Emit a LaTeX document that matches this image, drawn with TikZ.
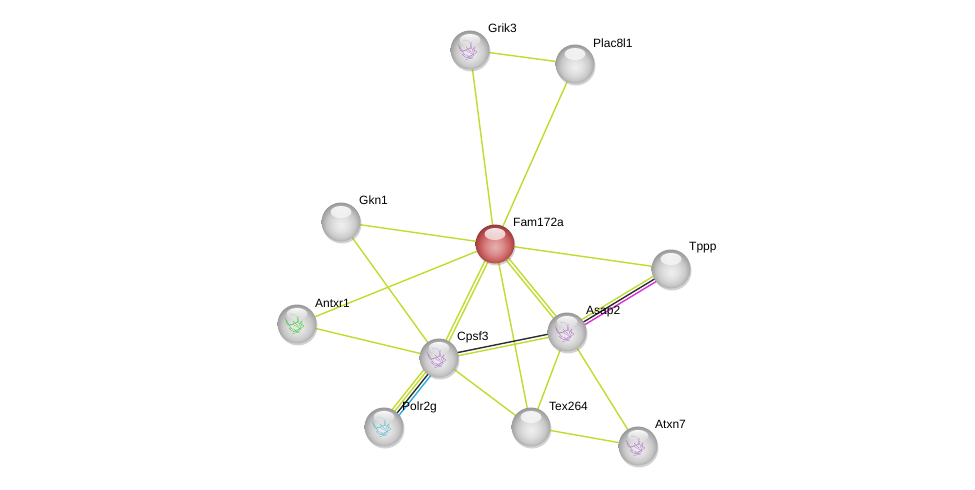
\documentclass[tikz,border=0pt]{standalone}
\usepackage{fontspec}
\setmainfont{Liberation Sans}
\usetikzlibrary{calc,backgrounds,shadows,fadings}
\definecolor{lime}{RGB}{192,220,44}
\definecolor{edgeblack}{RGB}{45,45,45}
\definecolor{edgecyan}{RGB}{40,175,225}
\definecolor{edgemag}{RGB}{220,45,220}
\definecolor{redball}{RGB}{200,80,80}
\definecolor{struct}{RGB}{175,120,200}
\definecolor{structg}{RGB}{70,200,70}
\definecolor{structc}{RGB}{90,190,210}
\tikzfading[name=hlfade, top color=transparent!0, bottom color=transparent!100]
\pgfdeclareradialshading{greysphere}{\pgfpoint{0bp}{-4bp}}{%
  color(0bp)=(gray!12); color(10bp)=(gray!25); color(18bp)=(gray!42);
  color(24bp)=(gray!68); color(29bp)=(gray!92); color(50bp)=(gray!92)}
\pgfdeclareradialshading{redsphere}{\pgfpoint{0bp}{-4bp}}{%
  color(0bp)=(redball!45!white); color(10bp)=(redball!65!white); color(18bp)=(redball!90!white);
  color(24bp)=(redball!85!black); color(29bp)=(redball!65!black); color(50bp)=(redball!65!black)}
\newcommand\pedge[4]{\draw[edge,#1] ($(#3.center)!#2!90:(#4.center)$) -- ($(#4.center)!#2!-90:(#3.center)$);}
\newcommand\scrib[1]{%
  \draw[#1, line width=0.45pt, opacity=0.85]
    ($(path picture bounding box.center)+(-7,-9)$) .. controls +(4,-3) and +(-3,2) .. +(3,-1)
    .. controls +(5,2) and +(-2,-4) .. +(9,6) .. controls +(-4,3) and +(3,-2) .. +(0,10)
    .. controls +(-4,1) and +(2,3) .. +(-5,3) .. controls +(3,4) and +(-2,-1) .. +(2,14)
    .. controls +(3,-2) and +(-3,3) .. +(10,17);
  \draw[#1, line width=0.45pt, opacity=0.85]
    ($(path picture bounding box.center)+(-4,-3)$) .. controls +(2,3) and +(-1,-2) .. +(5,5)
    .. controls +(2,2) and +(-3,1) .. +(9,0) .. controls +(1,4) and +(2,-1) .. +(3,11)
    .. controls +(-3,-1) and +(1,3) .. +(-4,7);
  \draw[#1, line width=0.45pt, opacity=0.85]
    ($(path picture bounding box.center)+(2,-8)$) .. controls +(-3,4) and +(2,-3) .. +(-2,6)
    .. controls +(4,2) and +(-2,-2) .. +(5,10) .. controls +(-3,3) and +(2,-2) .. +(-6,16);
  \draw[#1, line width=0.45pt, opacity=0.75]
    ($(path picture bounding box.center)+(-8,2)$) .. controls +(3,-3) and +(-2,2) .. +(4,-2)
    .. controls +(3,3) and +(-3,-2) .. +(12,3) .. controls +(-2,3) and +(3,-1) .. +(3,8);
}
\tikzset{
  edge/.style={line width=1.4pt, lime},
  shine/.style={path picture={#1\fill[white, path fading=hlfade, opacity=0.95]
      ($(path picture bounding box.center)+(0,-10)$) ellipse (10.5pt and 6pt);}},
  sph/.style={circle, minimum size=39pt, inner sep=0pt,
    drop shadow={opacity=0.35, shadow xshift=1pt, shadow yshift=-2pt},
    shading=greysphere, shine={}},
  redsph/.style={sph, shading=redsphere},
  lbl/.style={anchor=west, inner sep=0pt, font=\fontsize{12}{14}\selectfont},
}
\begin{document}
\begin{tikzpicture}[x=1pt,y=-1pt]
\useasboundingbox (0,0) rectangle (975,490);
% nodes
\node[sph, shine={\scrib{struct}}] (grik) at (470,50) {};
\node[sph] (plac) at (575,64) {};
\node[redsph] (fam) at (495,244) {};
\node[sph] (gkn) at (341,222) {};
\node[sph] (tppp) at (671,269) {};
\node[sph, shine={\scrib{structg}}] (antxr) at (297,324) {};
\node[sph, shine={\scrib{struct}}] (asap) at (567,332) {};
\node[sph, shine={\scrib{struct}}] (cpsf) at (439,358) {};
\node[sph, shine={\scrib{structc}}] (polr) at (384,427) {};
\node[sph] (tex) at (531,427) {};
\node[sph, shine={\scrib{struct}}] (atxn) at (638,446) {};
% labels
\node[lbl] (lgrik) at ($(grik.center)+(18,-22)$) {Grik3};
\node[lbl] (lplac) at ($(plac.center)+(18,-21)$) {Plac8l1};
\node[lbl] (lfam) at ($(fam.center)+(18,-22)$) {Fam172a};
\node[lbl] (lgkn) at ($(gkn.center)+(18,-22)$) {Gkn1};
\node[lbl] (ltppp) at ($(tppp.center)+(18,-21)$) {Tppp};
\node[lbl] (lantxr) at ($(antxr.center)+(18,-21)$) {Antxr1};
\node[lbl] (lasap) at ($(asap.center)+(19,-20)$) {Asap2};
\node[lbl] (lcpsf) at ($(cpsf.center)+(18,-21)$) {Cpsf3};
\node[lbl] (lpolr) at ($(polr.center)+(18,-20)$) {Polr2g};
\node[lbl] (ltex) at ($(tex.center)+(18,-21)$) {Tex264};
\node[lbl] (latxn) at ($(atxn.center)+(17,-22)$) {Atxn7};
% edges
\begin{scope}[on background layer]
\fill[white] (0,0) rectangle (975,490);
\pedge{}{0pt}{grik}{plac}
\pedge{}{0pt}{grik}{fam}
\pedge{}{0pt}{plac}{fam}
\pedge{}{0pt}{gkn}{fam}
\pedge{}{0pt}{gkn}{cpsf}
\pedge{}{0pt}{fam}{tppp}
\pedge{}{0pt}{fam}{antxr}
\pedge{}{1.6pt}{fam}{cpsf}
\pedge{}{-1.6pt}{fam}{cpsf}
\pedge{}{1.6pt}{fam}{asap}
\pedge{}{-1.6pt}{fam}{asap}
\pedge{}{0pt}{fam}{tex}
\pedge{}{0pt}{antxr}{cpsf}
\pedge{}{0pt}{cpsf}{tex}
\pedge{}{0pt}{asap}{tex}
\pedge{}{0pt}{asap}{atxn}
\pedge{}{0pt}{tex}{atxn}
\pedge{edgeblack}{1.6pt}{cpsf}{asap}
\pedge{}{-1.6pt}{cpsf}{asap}
\pedge{}{3pt}{asap}{tppp}
\pedge{edgeblack}{0pt}{asap}{tppp}
\pedge{edgemag}{-3pt}{asap}{tppp}
\pedge{}{-4.5pt}{cpsf}{polr}
\pedge{}{-1.5pt}{cpsf}{polr}
\pedge{edgeblack}{1.5pt}{cpsf}{polr}
\pedge{edgecyan}{4.5pt}{cpsf}{polr}
\end{scope}
\end{tikzpicture}
\end{document}
